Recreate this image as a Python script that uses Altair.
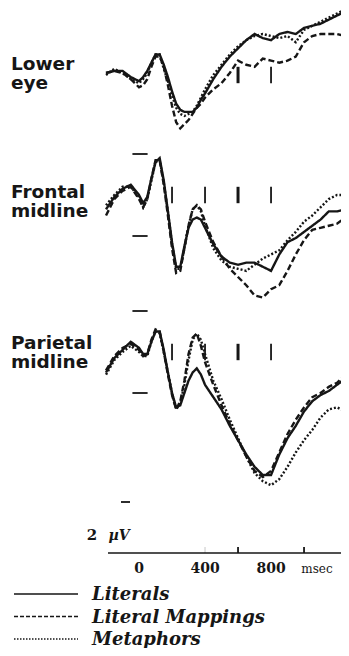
import altair as alt
import pandas as pd

# ---------------- data ----------------
times = [-200, -150, -100, -50, 0, 25, 50, 75, 100, 125, 150, 175, 200, 225, 250,
         275, 300, 325, 350, 375, 400, 450, 500, 550, 600, 650, 700, 750, 800,
         850, 900, 950, 1000, 1050, 1100, 1150, 1200, 1250]

panels = ["Lower eye", "Frontal midline", "Parietal midline"]
conditions = ["Literals", "Literal Mappings", "Metaphors"]

# amplitudes in microvolts (negative plotted up)
eye_literals = [-0.1, -0.2, -0.2, 0.1, 0.3, 0.1, -0.2, -0.6, -1.0, -1.0, -0.5, 0.1, 0.8, 1.4, 1.7,
                1.8, 1.8, 1.8, 1.6, 1.2, 0.9, 0.2, -0.4, -0.9, -1.3, -1.7, -2.0, -1.8, -1.7,
                -2.0, -2.1, -2.0, -2.3, -2.4, -2.5, -2.7, -2.9, -3.1]
eye_mappings = [-0.1, -0.2, -0.1, 0.2, 0.6, 0.5, 0.2, -0.4, -0.9, -0.9, -0.4, 0.5, 1.5, 2.3, 2.6,
                2.4, 2.2, 1.9, 1.6, 1.4, 1.1, 0.7, 0.4, -0.1, -0.7, -0.5, -0.4, -0.8, -0.7,
                -0.6, -0.7, -0.9, -1.6, -1.9, -2.0, -2.0, -2.0, -1.9]
eye_metaphors = [0.0, -0.3, -0.1, 0.2, 0.4, 0.2, -0.1, -0.6, -1.0, -1.0, -0.3, 0.3, 1.0, 1.6, 1.9,
                 2.0, 1.9, 1.8, 1.5, 1.1, 0.7, 0.0, -0.5, -1.0, -1.4, -1.7, -1.9, -2.0, -1.9,
                 -1.8, -1.9, -1.6, -2.2, -2.4, -2.6, -2.8, -3.0, -3.2]

fz_literals = [0.7, 0.1, -0.3, -0.5, 0.0, 0.4, 0.1, -0.8, -1.6, -1.8, -0.7, 0.8, 2.3, 3.5, 3.5,
               2.5, 1.6, 1.2, 1.1, 1.2, 1.6, 2.4, 3.0, 3.3, 3.4, 3.3, 3.3, 3.5, 3.7,
               2.9, 2.3, 2.1, 1.8, 1.5, 1.2, 0.8, 0.8, 0.7]
fz_mappings = [1.0, 0.2, -0.2, -0.4, 0.2, 0.6, 0.2, -0.8, -1.7, -1.7, -0.5, 1.0, 2.6, 3.8, 3.7,
               2.6, 1.5, 0.7, 0.5, 0.7, 1.3, 2.3, 3.0, 3.6, 4.0, 4.4, 4.9, 5.0, 4.6,
               4.4, 3.7, 2.9, 2.2, 1.7, 1.6, 1.5, 1.4, 1.1]
fz_metaphors = [0.5, 0.0, -0.4, -0.4, 0.1, 0.6, 0.2, -0.7, -1.6, -1.7, -0.6, 0.8, 2.4, 3.6, 3.6,
                2.6, 1.5, 0.7, 0.5, 0.8, 1.5, 2.6, 3.2, 3.5, 3.6, 3.7, 3.4, 3.1, 2.9,
                2.7, 2.2, 1.8, 1.3, 1.0, 0.6, 0.2, 0.0, 0.0]

pz_literals = [1.0, 0.3, -0.1, -0.5, -0.2, 0.1, 0.1, -0.5, -1.0, -1.0, -0.1, 1.0, 2.0, 2.7, 2.6,
               2.0, 1.4, 1.0, 0.8, 1.1, 1.6, 2.2, 2.8, 3.6, 4.3, 5.0, 5.6, 6.0, 6.0,
               5.0, 4.2, 3.6, 2.9, 2.4, 2.1, 1.9, 1.6, 1.3]
pz_mappings = [0.9, 0.2, -0.2, -0.4, -0.1, 0.2, 0.1, -0.6, -1.1, -1.0, 0.0, 1.1, 2.1, 2.8, 2.4,
               1.4, 0.1, -0.7, -0.9, -0.3, 0.5, 1.6, 2.6, 3.5, 4.3, 5.1, 5.8, 6.1, 5.8,
               4.9, 4.0, 3.3, 2.7, 2.2, 2.0, 1.7, 1.5, 1.1]
pz_metaphors = [1.1, 0.4, 0.0, -0.3, 0.0, 0.2, 0.2, -0.5, -1.0, -0.9, 0.0, 1.0, 2.0, 2.8, 2.5,
                1.6, 0.4, -0.6, -0.9, -0.6, 0.1, 1.4, 2.3, 3.3, 4.2, 5.1, 5.9, 6.3, 6.5,
                6.2, 5.6, 4.9, 4.3, 3.8, 3.2, 2.8, 2.7, 2.9]

marker_times = {"Lower eye": [600, 800],
                "Frontal midline": [200, 400, 600, 800],
                "Parietal midline": [200, 400, 600, 800]}
calib_uv = [-2, 2]
tick_ms = [400, 600, 1000]
label_ms = [0, 400, 800]

# ---------------- layout ----------------
W, H = 333, 640
PX_PER_UV = 20.5
panel_offset = {"Lower eye": 67 / PX_PER_UV,
                "Frontal midline": 187 / PX_PER_UV,
                "Parietal midline": 344 / PX_PER_UV}
label_top = {"Lower eye": 56, "Frontal midline": 184, "Parietal midline": 335}
INK = "#161616"

xs = alt.Scale(domain=[-794, 1224], nice=False, zero=False)
ys = alt.Scale(domain=[0, H / PX_PER_UV], reverse=True, nice=False, zero=False)

series = {
    ("Lower eye", "Literals"): eye_literals,
    ("Lower eye", "Literal Mappings"): eye_mappings,
    ("Lower eye", "Metaphors"): eye_metaphors,
    ("Frontal midline", "Literals"): fz_literals,
    ("Frontal midline", "Literal Mappings"): fz_mappings,
    ("Frontal midline", "Metaphors"): fz_metaphors,
    ("Parietal midline", "Literals"): pz_literals,
    ("Parietal midline", "Literal Mappings"): pz_mappings,
    ("Parietal midline", "Metaphors"): pz_metaphors,
}
rows = []
for (p, c), vals in series.items():
    for t, v in zip(times, vals):
        rows.append({"panel": p, "cond": c, "t": t, "uv": v, "y": panel_offset[p] + v})
df = pd.DataFrame(rows)

lines = alt.Chart(df).mark_line(clip=True, strokeWidth=2.4, color=INK).encode(
    x=alt.X("t:Q", scale=xs, axis=None),
    y=alt.Y("y:Q", scale=ys, axis=None),
    strokeDash=alt.StrokeDash("cond:N", scale=alt.Scale(domain=conditions,
                              range=[[1, 0], [6, 3], [2, 2]]), legend=None),
    detail="panel:N",
    order="t:Q",
)

mrows = []
for p, ts in marker_times.items():
    for t in ts:
        mrows.append({"panel": p, "t": t, "y1": panel_offset[p] - 0.4, "y2": panel_offset[p] + 0.4})
markers = alt.Chart(pd.DataFrame(mrows)).mark_rule(color=INK).encode(
    x=alt.X("t:Q", scale=xs),
    y=alt.Y("y1:Q", scale=ys),
    y2="y2:Q",
    strokeWidth=alt.condition(alt.datum.t == 600, alt.value(3), alt.value(1.8)),
)

crows = []
for p in ["Frontal midline", "Parietal midline"]:
    for u in calib_uv:
        crows.append({"t0": -40, "t1": 52, "y": panel_offset[p] + u})
calib = alt.Chart(pd.DataFrame(crows)).mark_rule(color=INK, strokeWidth=1.8).encode(
    x=alt.X("t0:Q", scale=xs), x2="t1:Q", y=alt.Y("y:Q", scale=ys))

one = pd.DataFrame({"a": [0]})
bar_mark = alt.Chart(one).mark_rule(color=INK, strokeWidth=1.8).encode(
    x=alt.value(113), x2=alt.value(122), y=alt.value(494))
cal_2 = alt.Chart(one).mark_text(text="2", font="DejaVu Serif", fontWeight="bold",
                                 fontSize=15, color=INK, align="center", baseline="alphabetic").encode(
    x=alt.value(84), y=alt.value(532))
cal_uv = alt.Chart(one).mark_text(text="µV", font="DejaVu Serif", fontWeight="bold",
                                  fontStyle="italic", fontSize=14, color=INK, align="center",
                                  baseline="alphabetic").encode(x=alt.value(111), y=alt.value(532))

axis_line = alt.Chart(one).mark_rule(color=INK, strokeWidth=1.6).encode(
    x=alt.value(100), x2=alt.value(W), y=alt.value(545))
ticks = alt.Chart(pd.DataFrame({"t": tick_ms})).mark_rule(color=INK).encode(
    x=alt.X("t:Q", scale=xs), y=alt.value(539), y2=alt.value(545),
    strokeWidth=alt.condition(alt.datum.t == 400, alt.value(0.6), alt.value(1.8)),
    opacity=alt.condition(alt.datum.t == 400, alt.value(0.4), alt.value(1)))
tick_labels = alt.Chart(pd.DataFrame({"t": label_ms})).mark_text(
    font="DejaVu Serif", fontWeight="bold", fontSize=14, color=INK, baseline="alphabetic").encode(
    x=alt.X("t:Q", scale=xs), y=alt.value(565), text="t:N")
msec = alt.Chart(one).mark_text(text="msec", font="DejaVu Serif", fontSize=12, color=INK,
                                baseline="alphabetic").encode(x=alt.value(309), y=alt.value(565))

lab_rows = []
for p in panels:
    for i, word in enumerate(p.split(" ")):
        lab_rows.append({"word": word, "i": i, "top": label_top[p]})
labels = alt.Chart(pd.DataFrame(lab_rows)).transform_calculate(
    py="datum.top + datum.i * 19").mark_text(
    font="DejaVu Sans", fontWeight="bold", fontSize=18.5, color=INK, align="left",
    baseline="middle").encode(x=alt.value(3), y=alt.Y("py:Q", scale=None), text="word:N")

leg = pd.DataFrame({"cond": conditions, "i": [0, 1, 2]})
leg_lines = alt.Chart(leg).transform_calculate(py="586 + datum.i * 22.5").mark_rule(
    color=INK, strokeWidth=1.6).encode(
    x=alt.value(6), x2=alt.value(70), y=alt.Y("py:Q", scale=None),
    strokeDash=alt.StrokeDash("cond:N", scale=alt.Scale(domain=conditions,
                              range=[[1, 0], [4, 2], [1.5, 1.5]]), legend=None))
leg_text = alt.Chart(leg).transform_calculate(py="587 + datum.i * 22.5").mark_text(
    font="DejaVu Serif", fontWeight="bold", fontStyle="italic", fontSize=18, color=INK,
    align="left", baseline="middle").encode(
    x=alt.value(84), y=alt.Y("py:Q", scale=None), text="cond:N")

chart = alt.layer(lines, markers, calib, bar_mark, cal_2, cal_uv, axis_line, ticks,
                  tick_labels, msec, labels, leg_lines, leg_text).resolve_scale(
    strokeDash="independent").properties(
    width=W, height=H, padding=0, autosize="none").configure_view(stroke=None)

chart.save("out.html", embed_options={"renderer": "svg", "actions": False})
